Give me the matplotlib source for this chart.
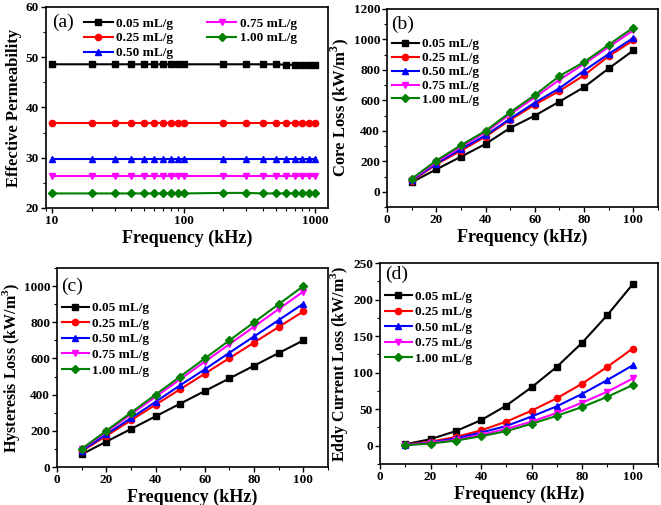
import matplotlib
matplotlib.use("Agg")
import matplotlib.pyplot as plt
from matplotlib.ticker import AutoMinorLocator, LogLocator, NullFormatter

plt.rcParams['font.family'] = ['Liberation Serif', 'DejaVu Serif']
plt.rcParams['font.weight'] = 'bold'
plt.rcParams['mathtext.fontset'] = 'custom'
plt.rcParams['mathtext.rm'] = 'Liberation Serif:bold'
plt.rcParams['mathtext.bf'] = 'Liberation Serif:bold'

labels = ['0.05 mL/g', '0.25 mL/g', '0.50 mL/g', '0.75 mL/g', '1.00 mL/g']
colors = ['black', 'red', 'blue', 'magenta', 'green']
markers = ['s', 'o', '^', 'v', 'D']

freq_a = [10, 20, 30, 40, 50, 60, 70, 80, 90, 100, 200, 300, 400, 500, 600, 700, 800, 900, 1000]
perm = [
    [48.6, 48.6, 48.6, 48.6, 48.6, 48.6, 48.6, 48.6, 48.6, 48.6, 48.6, 48.6, 48.6, 48.6, 48.5, 48.5, 48.5, 48.5, 48.5],
    [37.0, 37.0, 37.0, 37.0, 37.0, 37.0, 37.0, 37.0, 37.0, 37.0, 37.0, 37.0, 37.0, 37.0, 37.0, 37.0, 37.0, 37.0, 37.0],
    [29.8, 29.8, 29.8, 29.8, 29.8, 29.8, 29.8, 29.8, 29.8, 29.8, 29.8, 29.8, 29.8, 29.8, 29.8, 29.8, 29.8, 29.8, 29.8],
    [26.3, 26.3, 26.3, 26.3, 26.3, 26.3, 26.3, 26.3, 26.3, 26.3, 26.3, 26.3, 26.3, 26.3, 26.3, 26.3, 26.3, 26.3, 26.3],
    [22.9, 22.9, 22.9, 22.9, 22.9, 22.9, 22.9, 22.9, 22.9, 22.9, 23.0, 23.0, 22.9, 22.9, 22.9, 22.9, 22.9, 22.9, 22.9],
]

freq = [10, 20, 30, 40, 50, 60, 70, 80, 90, 100]
core = [
    [62, 147, 230, 314, 419, 500, 592, 687, 810, 928],
    [70, 180, 270, 362, 472, 572, 662, 765, 890, 995],
    [75, 185, 280, 370, 480, 585, 680, 795, 905, 1010],
    [80, 195, 295, 390, 510, 620, 735, 840, 950, 1060],
    [85, 205, 305, 400, 522, 635, 760, 852, 965, 1078],
]
hyst = [
    [70, 140, 210, 280, 350, 420, 490, 560, 630, 700],
    [86, 172, 258, 344, 430, 516, 602, 688, 774, 860],
    [90, 180, 270, 360, 452, 540, 632, 722, 812, 903],
    [97, 194, 291, 388, 485, 582, 679, 776, 873, 970],
    [100, 200, 300, 400, 500, 600, 700, 800, 900, 1000],
]
eddy = [
    [2, 9, 20, 35, 55, 80, 108, 141, 179, 221],
    [1.5, 5.5, 12, 21, 33, 48, 65, 85, 108, 133],
    [1, 4.5, 10, 18, 27, 40, 54, 71, 90, 110],
    [1, 4, 8, 15, 23, 33, 45, 59, 74, 92],
    [0.8, 3, 7, 13, 20, 30, 41, 53, 67, 83],
]

fig = plt.figure(figsize=(6.61, 5.05), dpi=100)
W, H = 661, 505

def add_ax(l, t, r, b):
    return fig.add_axes([l / W, 1 - b / H, (r - l) / W, (b - t) / H])

axa = add_ax(46, 7, 328, 208)
axb = add_ax(387, 9, 658, 207)
axc = add_ax(57, 268, 328, 467)
axd = add_ax(380, 263, 658, 464)

LEG = {'weight': 'bold', 'size': 9.5}

def style(ax, xlabel, ylabel, ypad=3, ysize=12):
    ax.set_xlabel(xlabel, fontsize=13, fontweight='bold', labelpad=2)
    ax.set_ylabel(ylabel, fontsize=ysize, fontweight='bold', labelpad=ypad)
    ax.tick_params(which='both', direction='out', top=False, right=False, labelsize=9.5, pad=1.5)
    ax.tick_params(which='major', length=3.5, width=1.0)
    ax.tick_params(which='minor', length=2, width=0.8)
    for lab in ax.get_xticklabels() + ax.get_yticklabels():
        lab.set_fontweight('bold')
    for s in ax.spines.values():
        s.set_linewidth(1.2)

def panel_label(ax, txt, x, y):
    ax.text(x, y, txt, transform=ax.transAxes, fontsize=14, fontweight='normal', va='center', ha='left')

# (a)
for y, c, m, lab in zip(perm, colors, markers, labels):
    axa.plot(freq_a, y, color=c, marker=m, markersize=4.5, lw=1.5, label=lab)
axa.set_xscale('log')
axa.set_xlim(9, 1250)
axa.set_ylim(20, 60)
axa.set_xticks([10, 100, 1000])
axa.set_xticklabels(['10', '100', '1000'])
axa.xaxis.set_minor_locator(LogLocator(base=10, subs=range(2, 10)))
axa.xaxis.set_minor_formatter(NullFormatter())
axa.yaxis.set_minor_locator(AutoMinorLocator(2))
style(axa, 'Frequency (kHz)', 'Effective Permeability')
panel_label(axa, '(a)', 0.02, 0.925)
axa.legend(loc='upper left', bbox_to_anchor=(0.115, 0.975), ncol=2, frameon=False,
           handlelength=2.2, columnspacing=2.6, labelspacing=0.2,
           handletextpad=0.25, borderaxespad=0.2, borderpad=0.2, prop=LEG)

# (b)
for y, c, m, lab in zip(core, colors, markers, labels):
    axb.plot(freq, y, color=c, marker=m, markersize=4.5, lw=1.5, label=lab)
axb.set_xlim(0, 110)
axb.set_ylim(-100, 1200)
axb.set_xticks([0, 20, 40, 60, 80, 100])
axb.set_yticks([0, 200, 400, 600, 800, 1000, 1200])
axb.xaxis.set_minor_locator(AutoMinorLocator(2))
axb.yaxis.set_minor_locator(AutoMinorLocator(2))
style(axb, 'Frequency (kHz)', r'Core Loss (kW/m$^3$)', ypad=2)
panel_label(axb, '(b)', 0.015, 0.923)
axb.legend(loc='upper left', bbox_to_anchor=(0.0, 0.88), frameon=False,
           handlelength=2.0, labelspacing=0.13, handletextpad=0.25,
           borderaxespad=0.2, borderpad=0.2, prop=LEG)

# (c)
for y, c, m, lab in zip(hyst, colors, markers, labels):
    axc.plot(freq, y, color=c, marker=m, markersize=4.5, lw=1.5, label=lab)
axc.set_xlim(0, 110)
axc.set_ylim(0, 1100)
axc.set_xticks([0, 20, 40, 60, 80, 100])
axc.set_yticks([0, 200, 400, 600, 800, 1000])
axc.xaxis.set_minor_locator(AutoMinorLocator(2))
axc.yaxis.set_minor_locator(AutoMinorLocator(2))
style(axc, 'Frequency (kHz)', r'Hysteresis Loss (kW/m$^3$)', ypad=1, ysize=11.5)
panel_label(axc, '(c)', 0.015, 0.91)
axc.legend(loc='upper left', bbox_to_anchor=(0.0, 0.855), frameon=False,
           handlelength=2.0, labelspacing=0.25, handletextpad=0.25,
           borderaxespad=0.2, borderpad=0.2, prop=LEG)

# (d)
for y, c, m, lab in zip(eddy, colors, markers, labels):
    axd.plot(freq, y, color=c, marker=m, markersize=4.5, lw=1.5, label=lab)
axd.set_xlim(0, 110)
axd.set_ylim(-25, 250)
axd.set_xticks([0, 20, 40, 60, 80, 100])
axd.set_yticks([0, 50, 100, 150, 200, 250])
axd.xaxis.set_minor_locator(AutoMinorLocator(2))
axd.yaxis.set_minor_locator(AutoMinorLocator(2))
style(axd, 'Frequency (kHz)', r'Eddy Current Loss (kW/m$^3$)', ypad=2, ysize=11.5)
panel_label(axd, '(d)', 0.018, 0.945)
axd.legend(loc='upper left', bbox_to_anchor=(0.0, 0.89), frameon=False,
           handlelength=2.0, labelspacing=0.25, handletextpad=0.25,
           borderaxespad=0.2, borderpad=0.2, prop=LEG)

fig.savefig('out.png', dpi=100)
